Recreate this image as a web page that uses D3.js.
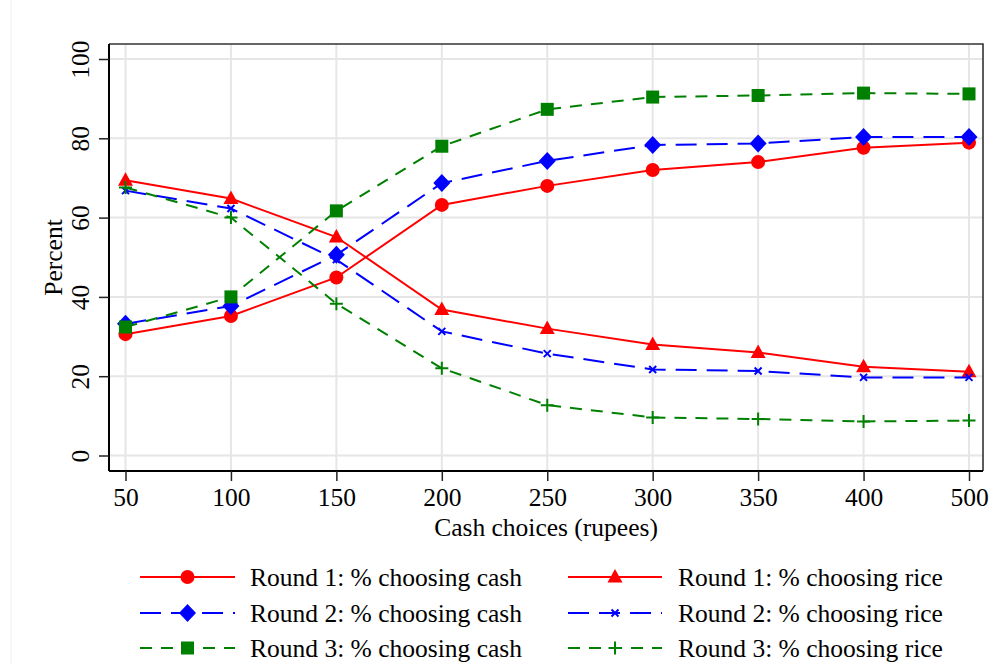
<!DOCTYPE html>
<html>
<head>
<meta charset="utf-8">
<script src="https://cdn.jsdelivr.net/npm/d3@7"></script>
<style>
	body { margin: 0; background: #fff; }
	svg text { font-family: 'Liberation Serif', 'Times New Roman', serif; fill: #000; }
</style>
</head>
<body>
<svg id="chart" width="995" height="664"></svg>
<script>
// NOTE data
const cashChoices = [50, 100, 150, 200, 250, 300, 350, 400, 500];
const yTicks = [0, 20, 40, 60, 80, 100];

const r1Cash = [30.6, 35.2, 44.9, 63.2, 68.0, 72.0, 74.0, 77.6, 78.9];
const r1Rice = [69.4, 64.8, 55.1, 36.8, 32.0, 28.0, 26.0, 22.4, 21.1];
const r2Cash = [33.2, 37.7, 50.6, 68.7, 74.3, 78.3, 78.7, 80.3, 80.3];
const r2Rice = [66.8, 62.3, 49.4, 31.3, 25.7, 21.7, 21.3, 19.7, 19.7];
const r3Cash = [32.4, 40.0, 61.7, 78.0, 87.3, 90.4, 90.8, 91.4, 91.2];
const r3Rice = [67.6, 60.0, 38.3, 22.0, 12.7, 9.6, 9.2, 8.6, 8.8];

const seriesLabels = [
	'Round 1: % choosing cash',
	'Round 1: % choosing rice',
	'Round 2: % choosing cash',
	'Round 2: % choosing rice',
	'Round 3: % choosing cash',
	'Round 3: % choosing rice',
];

// styles per series
const styles = [
	{ values: r1Cash, color: '#ff0000', dash: null, symbol: 'circle' },
	{ values: r1Rice, color: '#ff0000', dash: null, symbol: 'triangle' },
	{ values: r2Cash, color: '#0000ff', dash: '21,10', symbol: 'diamond' },
	{ values: r2Rice, color: '#0000ff', dash: '21,10', symbol: 'x' },
	{ values: r3Cash, color: '#008000', dash: '12,9', symbol: 'square' },
	{ values: r3Rice, color: '#008000', dash: '12,9', symbol: 'plus' },
];

const FS = 25.5;
const svg = d3.select('#chart');
const plotLeft = 109, plotRight = 983, plotTop = 44, plotBottom = 471;

// cash choices are plotted as evenly spaced categories
const x = d3.scaleLinear().domain([0, cashChoices.length - 1]).range([125.5, 969]);
const y = d3.scaleLinear().domain([0, 100]).range([455.5, 59]);

// faint outer region line
svg.append('line')
	.attr('x1', 11).attr('x2', 11).attr('y1', 0).attr('y2', 664)
	.attr('stroke', '#f0f0f0').attr('stroke-width', 1);

// grid
const grid = svg.append('g');
grid.selectAll('.hg').data(yTicks).enter().append('line')
	.attr('x1', plotLeft).attr('x2', plotRight)
	.attr('y1', (d) => y(d)).attr('y2', (d) => y(d))
	.attr('stroke', '#e6e6e6').attr('stroke-width', 2);
grid.selectAll('.vg').data(cashChoices).enter().append('line')
	.attr('x1', (d, i) => x(i)).attr('x2', (d, i) => x(i))
	.attr('y1', plotTop).attr('y2', plotBottom)
	.attr('stroke', '#e6e6e6').attr('stroke-width', 2);

// top / right border
svg.append('path')
	.attr('d', `M${plotLeft},${plotTop}H${plotRight}V${plotBottom}`)
	.attr('fill', 'none').attr('stroke', '#333').attr('stroke-width', 1.6);

// axes
const xAxis = d3.axisBottom(x)
	.tickValues(d3.range(cashChoices.length))
	.tickFormat((i) => cashChoices[i])
	.tickSize(10).tickSizeOuter(0).tickPadding(7);
const gx = svg.append('g').attr('transform', `translate(0,${plotBottom})`).call(xAxis);
gx.select('.domain').attr('d', `M${plotLeft},0H${plotRight}`).attr('stroke', '#000').attr('stroke-width', 2);
gx.selectAll('.tick line').attr('stroke', '#222').attr('stroke-width', 1.5);
gx.selectAll('.tick text').attr('font-size', FS).attr('font-family', 'Liberation Serif');

const yAxis = d3.axisLeft(y).tickValues(yTicks).tickSize(10).tickSizeOuter(0);
const gy = svg.append('g').attr('transform', `translate(${plotLeft},0)`).call(yAxis);
gy.select('.domain').attr('d', `M0,${plotTop}V${plotBottom}`).attr('stroke', '#000').attr('stroke-width', 2);
gy.selectAll('.tick line').attr('stroke', '#222').attr('stroke-width', 1.5);
gy.selectAll('.tick text')
	.attr('font-size', FS).attr('font-family', 'Liberation Serif')
	.attr('x', null)
	.attr('text-anchor', 'middle')
	.attr('transform', 'translate(-29,0) rotate(-90)')
	.attr('dy', '0.35em');

// axis titles
svg.append('text')
	.attr('x', (plotLeft + plotRight) / 2).attr('y', 536)
	.attr('text-anchor', 'middle').attr('font-size', FS)
	.text('Cash choices (rupees)');
svg.append('text')
	.attr('transform', `translate(62,${(plotTop + plotBottom) / 2}) rotate(-90)`)
	.attr('text-anchor', 'middle').attr('font-size', FS)
	.text('Percent');

// marker drawer
function drawMarker(g, kind, color) {
	if (kind === 'circle') {
		g.append('circle').attr('r', 7).attr('fill', color);
	} else if (kind === 'triangle') {
		g.append('path').attr('d', 'M0,-8L7.5,5.5L-7.5,5.5Z').attr('fill', color);
	} else if (kind === 'diamond') {
		g.append('path').attr('d', 'M0,-9L8.5,0L0,9L-8.5,0Z').attr('fill', color);
	} else if (kind === 'square') {
		g.append('rect').attr('x', -6.5).attr('y', -6.5).attr('width', 13).attr('height', 13).attr('fill', color);
	} else if (kind === 'x') {
		g.append('path').attr('d', 'M-3.5,-3.5L3.5,3.5M-3.5,3.5L3.5,-3.5')
			.attr('stroke', color).attr('stroke-width', 2).attr('fill', 'none');
	} else if (kind === 'plus') {
		g.append('path').attr('d', 'M-6.5,0H6.5M0,-6.5V6.5')
			.attr('stroke', color).attr('stroke-width', 2).attr('fill', 'none');
	}
}

const line = d3.line().x((d, i) => x(i)).y((d) => y(d));

styles.forEach((s) => {
	const g = svg.append('g');
	g.append('path')
		.attr('d', line(s.values))
		.attr('fill', 'none')
		.attr('stroke', s.color)
		.attr('stroke-width', 2)
		.attr('stroke-dasharray', s.dash);
	s.values.forEach((v, i) => {
		const m = g.append('g').attr('transform', `translate(${x(i)},${y(v)})`);
		drawMarker(m, s.symbol, s.color);
	});
});

// legend, two columns
const legendRows = [577, 613, 648];
const legendCols = [{ x1: 140, x2: 235, text: 250 }, { x1: 568, x2: 662, text: 678 }];

styles.forEach((s, k) => {
	const col = legendCols[k % 2];
	const ry = legendRows[Math.floor(k / 2)];
	const g = svg.append('g');
	g.append('line')
		.attr('x1', col.x1).attr('x2', col.x2).attr('y1', ry).attr('y2', ry)
		.attr('stroke', s.color).attr('stroke-width', 2)
		.attr('stroke-dasharray', s.dash);
	const m = g.append('g').attr('transform', `translate(${(col.x1 + col.x2) / 2},${ry})`);
	drawMarker(m, s.symbol, s.color);
	g.append('text')
		.attr('x', col.text).attr('y', ry).attr('dy', '0.35em')
		.attr('font-size', FS)
		.text(seriesLabels[k]);
});
</script>
</body>
</html>
